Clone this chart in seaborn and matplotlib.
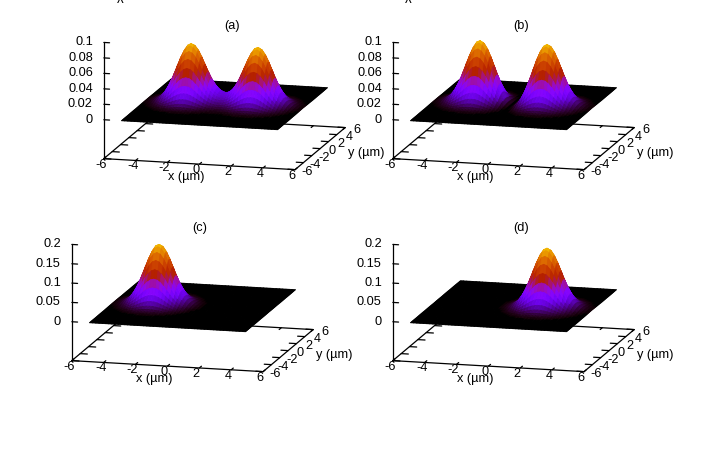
import numpy as np
import matplotlib
matplotlib.use('Agg')
import matplotlib.pyplot as plt
from mpl_toolkits.mplot3d import proj3d
import seaborn as sns

#%% values
x_um = np.arange(-4.9, 4.91, 0.2)
y_um = np.arange(-6, 6.01, 0.25)

# density along y = 0, one list per panel
profile_a = [.0003, .0007, .0014, .0026, .0048, .0080, .0128, .0195, .0279, .0378, .0485, .0590, .0676, .0736, .0759,
             .0741, .0686, .0604, .0507, .0410, .0321, .0248, .0195, .0162, .0145,
             .0145, .0162, .0195, .0248, .0321, .0410, .0507, .0604, .0686, .0741,
             .0759, .0736, .0676, .0590, .0485, .0378, .0279, .0195, .0128, .0080, .0048, .0026, .0014, .0007, .0003]
profile_b = [.0003, .0007, .0015, .0028, .0050, .0085, .0136, .0206, .0295, .0401, .0514, .0623, .0715, .0777, .0797,
             .0772, .0706, .0608, .0490, .0369, .0254, .0156, .0080, .0029, .0003,
             .0003, .0029, .0080, .0156, .0254, .0369, .0490, .0608, .0706, .0772,
             .0797, .0777, .0715, .0623, .0514, .0401, .0295, .0206, .0136, .0085, .0050, .0028, .0015, .0007, .0003]
profile_c = [.0006, .0014, .0029, .0054, .0098, .0164, .0264, .0400, .0572, .0777, .0995, .1209, .1387, .1508, .1550,
             .1508, .1387, .1209, .0995, .0777, .0572, .0400, .0264, .0164, .0098, .0054, .0029, .0014, .0006, .0003, .0002,
             0, 0, 0, 0, 0, 0, 0, 0, 0, 0, 0, 0, 0, 0, 0, 0, 0, 0, 0]
profile_d = [0, 0, 0, 0, 0, 0, 0, 0, 0, 0, 0, 0, 0, 0, 0, 0, 0, 0, 0,
             .0002, .0003, .0006, .0014, .0029, .0054, .0098, .0164, .0264, .0400, .0572, .0777, .0995, .1209, .1387, .1508,
             .1550, .1508, .1387, .1209, .0995, .0777, .0572, .0400, .0264, .0164, .0098, .0054, .0029, .0014, .0006]

# relative fall-off across y, same in all panels
profile_y = [0, 0, 0, 0, 0, 0, .0001, .0003, .0007, .002, .004, .008, .017, .032, .058, .100, .163, .249, .360, .492, .635, .774, .893, .972,
             1, .972, .893, .774, .635, .492, .360, .249, .163, .100, .058, .032, .017, .008, .004, .002, .0007, .0003, .0001, 0, 0, 0, 0, 0, 0]

panel_names = ['(a)', '(b)', '(c)', '(d)']
xy_ticks = [-6, -4, -2, 0, 2, 4, 6]
z_ticks_top = [0, 0.02, 0.04, 0.06, 0.08, 0.1]
z_labels_top = ['0', '0.02', '0.04', '0.06', '0.08', '0.1']
z_ticks_bottom = [0, 0.05, 0.1, 0.15, 0.2]
z_labels_bottom = ['0', '0.05', '0.1', '0.15', '0.2']

#%% style
sns.set_theme(style='white')
plt.rcParams['font.family'] = ['Liberation Sans', 'DejaVu Sans']
cmap = sns.color_palette('gnuplot', as_cmap=True)

W, H = 706, 449
fig = plt.figure(figsize=(W / 100, H / 100), dpi=100)
FS = 9.2


def label(ax, x, y, z, s, ha='center'):
    # place text at the projected spot of a 3d point
    px, py, _ = proj3d.proj_transform(x, y, z, ax.get_proj())
    ax.text2D(px, py, s, transform=ax.transData, ha=ha, va='center', fontsize=FS, color='black', zorder=4)


def draw_panel(left_px, top_px, profile, z_ticks, z_labels, ztop, vmax):
    # the 3d axes is a 295 px square, box centre sits at 51.35 % of it
    ax = fig.add_axes([left_px / W, 1 - (top_px + 295) / H, 295 / W, 295 / H],
                      projection='3d', proj_type='ortho', computed_zorder=False)
    ax.view_init(elev=12.7, azim=-75.33)
    ax.set_box_aspect((1, 1, 0.6025), zoom=1)
    ax.set_axis_off()
    ax.patch.set_visible(False)
    zmin = -0.503 * ztop
    ax.set_xlim(-6, 6)
    ax.set_ylim(-6, 6)
    ax.set_zlim(zmin, ztop)
    ax.set_xticks([])
    ax.set_yticks([])
    ax.set_zticks([])

    line = dict(color='black', lw=0.9, zorder=1)
    # base rectangle and z axis
    ax.plot([-6, 6, 6, -6, -6], [-6, -6, 6, 6, -6], [zmin] * 5, **line)
    ax.plot([-6, -6], [-6, -6], [zmin, ztop], **line)
    for t in xy_ticks:
        ax.plot([t, t], [-6, -5.5], [zmin, zmin], **line)
        ax.plot([t, t], [6, 5.5], [zmin, zmin], **line)
        ax.plot([-6, -5.55], [t, t], [zmin, zmin], **line)
        ax.plot([6, 5.55], [t, t], [zmin, zmin], **line)
        label(ax, t + 0.24, -7.65, zmin, str(t))
        label(ax, 6.85, t - 0.35, zmin, str(t))
    for z, lab in zip(z_ticks, z_labels):
        ax.plot([-6, -5.64], [-6, -6], [z, z], **line)
        label(ax, -6.65, -6.17, z, lab, ha='right')

    # surface
    X, Y = np.meshgrid(x_um, y_um)
    Z = np.outer(profile_y, profile)
    surf = ax.plot_surface(X, Y, Z, cmap=cmap, vmin=0, vmax=vmax, rstride=1, cstride=1,
                           linewidth=0.6, antialiased=True, shade=False, zorder=2)
    surf.set_edgecolor('face')

    label(ax, 0.08, -9.55, zmin, 'x (\u00b5m)')
    label(ax, 9.05, -0.53, zmin, 'y (\u00b5m)')
    return ax


draw_panel(73, -58.5, profile_a, z_ticks_top, z_labels_top, 0.1, 0.0835)
draw_panel(362, -58.5, profile_b, z_ticks_top, z_labels_top, 0.1, 0.0875)
draw_panel(41, 143.5, profile_c, z_ticks_bottom, z_labels_bottom, 0.2, 0.17)
draw_panel(362, 143.5, profile_d, z_ticks_bottom, z_labels_bottom, 0.2, 0.17)

for name, cx, cy in zip(panel_names, [232, 521, 200, 521], [25.5, 25.5, 227.5, 227.5]):
    fig.text(cx / W, 1 - cy / H, name, ha='center', va='center', fontsize=FS, color='black')
for cx in [120, 408]:
    fig.text(cx / W, 1 - 3 / H, '\u03c7', ha='center', va='bottom', fontsize=FS, color='black')

fig.savefig('out.png', dpi=100)
